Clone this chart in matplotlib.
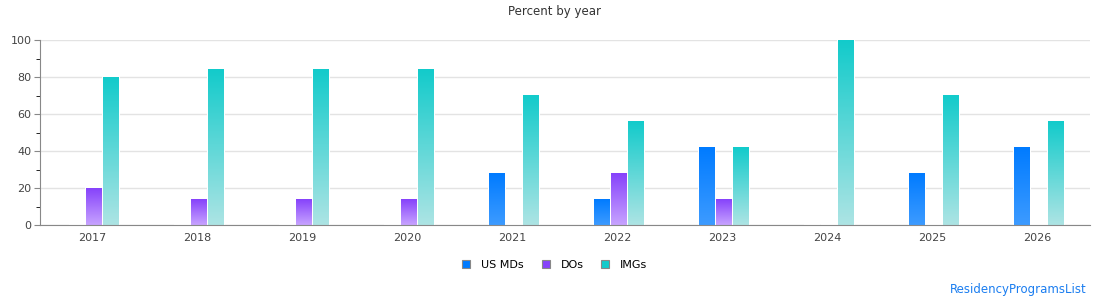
import numpy as np
import matplotlib.pyplot as plt
from matplotlib.colors import LinearSegmentedColormap
from matplotlib.patches import Patch

years = ['2017', '2018', '2019', '2020', '2021', '2022', '2023', '2024', '2025', '2026']
us_mds = [0, 0, 0, 0, 28, 14, 42, 0, 28, 42]
dos = [20, 14, 14, 14, 0, 28, 14, 0, 0, 0]
imgs = [80, 84, 84, 84, 70, 56, 42, 100, 70, 56]

series = [
    ('US MDs', us_mds, '#007bff', '#3d9bff'),
    ('DOs', dos, '#8642fb', '#c7a3ff'),
    ('IMGs', imgs, '#12cbcb', '#ade4e4'),
]

plt.rcParams['font.family'] = 'DejaVu Sans'
fig = plt.figure(figsize=(11.1, 3), dpi=100)
ax = fig.add_axes([40 / 1110, 75 / 300, 1050 / 1110, 185 / 300])

x = np.arange(len(years))
width = 0.152
offsets = [-0.148, 0.014, 0.176]
grad = np.linspace(0, 1, 256).reshape(-1, 1)

for (name, vals, top, bottom), off in zip(series, offsets):
    # white outline gives the small gap between bars and grid lines
    bars = ax.bar(x + off, vals, width, facecolor='none', edgecolor='white',
                  linewidth=1.5, zorder=2)
    cmap = LinearSegmentedColormap.from_list(name, [bottom, top])
    for b in bars:
        h = b.get_height()
        if h <= 0:
            continue
        x0 = b.get_x()
        ax.imshow(grad, cmap=cmap, origin='lower', aspect='auto',
                  extent=[x0, x0 + b.get_width(), 0, h], zorder=3)

ax.set_xlim(-0.5, len(years) - 0.5)
ax.set_ylim(0, 100)
ax.set_xticks(x)
ax.set_xticklabels(years)
ax.set_yticks([0, 20, 40, 60, 80, 100])
ax.set_yticks(np.arange(10, 100, 20), minor=True)
ax.grid(axis='y', color='#e3e3e3', linewidth=1, zorder=0)
ax.set_axisbelow(True)
for s in ['top', 'right']:
    ax.spines[s].set_visible(False)
for s in ['left', 'bottom']:
    ax.spines[s].set_color('#888888')
    ax.spines[s].set_zorder(4)
ax.tick_params(axis='both', colors='#888888', labelcolor='#444444', labelsize=8)
ax.tick_params(axis='x', length=0, pad=6)
ax.tick_params(axis='y', length=4, pad=2)
ax.tick_params(axis='y', which='minor', length=3)

fig.text(0.5, 1 - 12 / 300, 'Percent by year', ha='center', va='center',
         fontsize=8.5, color='#333333')

handles = [Patch(facecolor=t, edgecolor='#888888', linewidth=0.8, label=n)
           for n, _, t, _ in series]
fig.legend(handles=handles, loc='center', bbox_to_anchor=(0.5, 1 - 265 / 300),
           ncol=3, frameon=False, fontsize=8, handlelength=0.7, handleheight=0.7,
           handletextpad=1.0, columnspacing=1.6)

fig.text(1087 / 1110, 1 - 290 / 300, 'ResidencyProgramsList', ha='right', va='center',
         fontsize=8.5, color='#1a7df0')

fig.savefig('out.png', dpi=100)
